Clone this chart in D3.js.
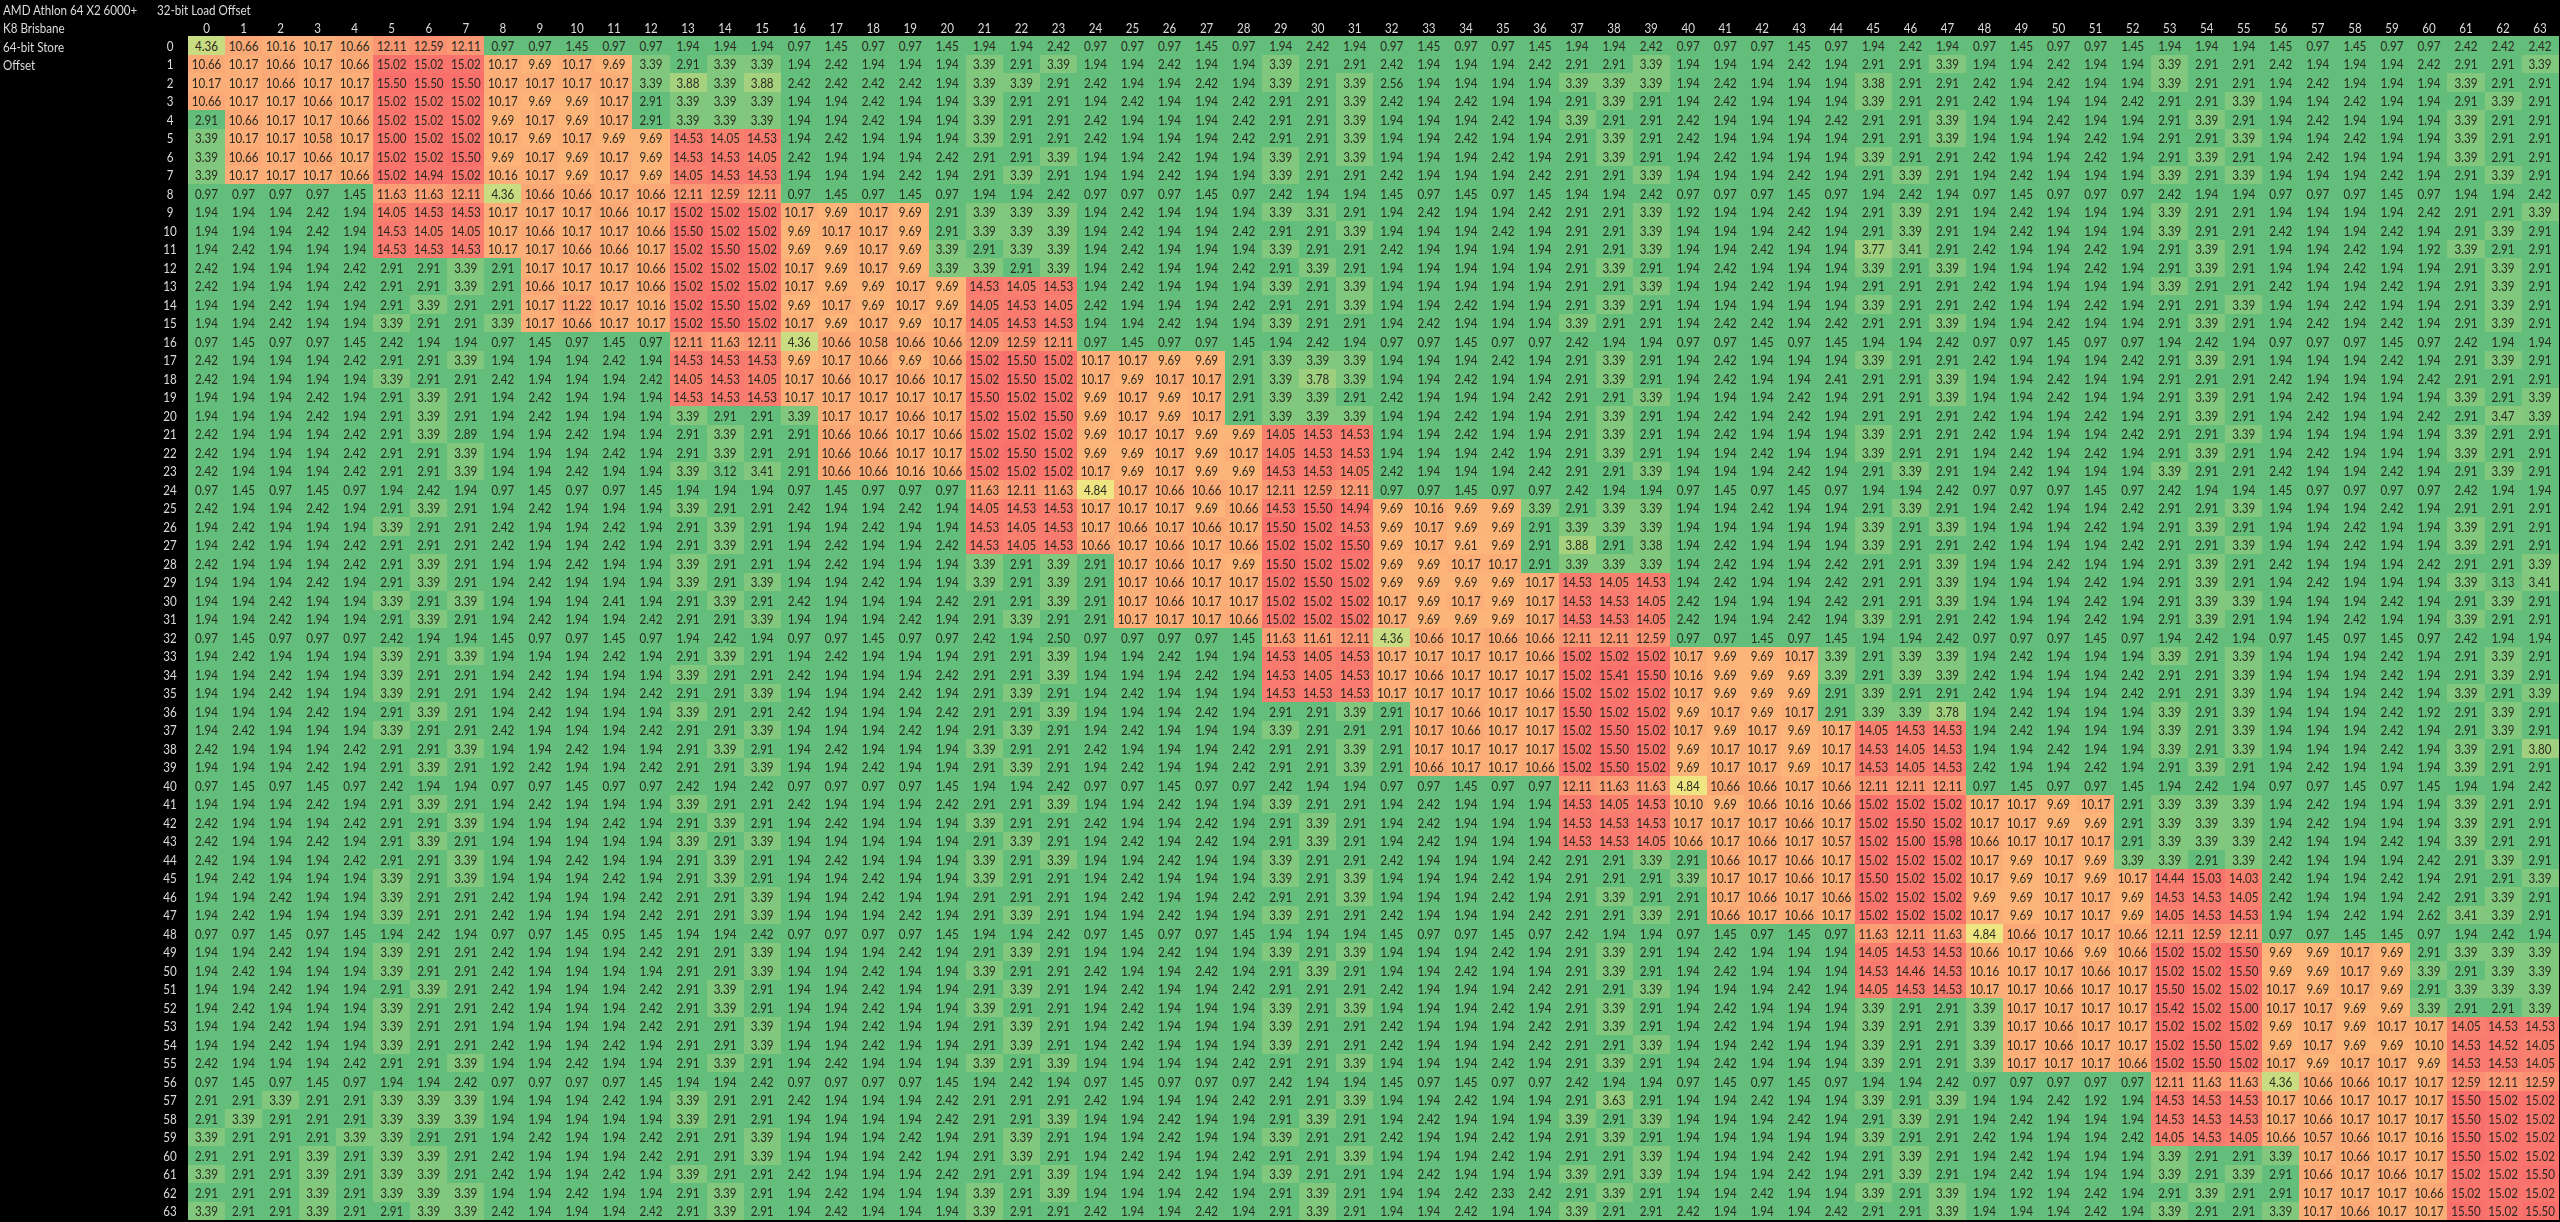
<!DOCTYPE html>
<html><head><meta charset="utf-8">
<script src="https://cdn.jsdelivr.net/npm/d3@7/dist/d3.min.js"></script>
<style>html,body{margin:0;padding:0;background:#000;overflow:hidden}svg{display:block;filter:blur(0.4px)}text{font-family:Lato,"Open Sans",sans-serif}</style>
</head><body><svg id="c" width="2560" height="1222"></svg>
<script>
const titleLines=["AMD Athlon 64 X2 6000+","K8 Brisbane","64-bit Store","Offset"];
const loadTitle="32-bit Load Offset";
const loadOffsets=d3.range(64);
const storeOffsets=d3.range(64);
const s00=[4.36,10.66,10.16,10.17,10.66,12.11,12.59,12.11,0.97,0.97,1.45,0.97,0.97,1.94,1.94,1.94,0.97,1.45,0.97,0.97,1.45,1.94,1.94,2.42,0.97,0.97,0.97,1.45,0.97,1.94,2.42,1.94,0.97,1.45,0.97,0.97,1.45,1.94,1.94,2.42,0.97,0.97,0.97,1.45,0.97,1.94,2.42,1.94,0.97,1.45,0.97,0.97,1.45,1.94,1.94,1.94,1.45,0.97,1.45,0.97,0.97,2.42,2.42,2.42];
const s01=[10.66,10.17,10.66,10.17,10.66,15.02,15.02,15.02,10.17,9.69,10.17,9.69,3.39,2.91,3.39,3.39,1.94,2.42,1.94,1.94,1.94,3.39,2.91,3.39,1.94,1.94,2.42,1.94,1.94,3.39,2.91,2.91,2.42,1.94,1.94,1.94,2.42,2.91,2.91,3.39,1.94,1.94,1.94,2.42,1.94,2.91,2.91,3.39,1.94,1.94,2.42,1.94,1.94,3.39,2.91,2.91,2.42,1.94,1.94,1.94,2.42,2.91,2.91,3.39];
const s02=[10.17,10.17,10.66,10.17,10.17,15.50,15.50,15.50,10.17,10.17,10.17,10.17,3.39,3.88,3.39,3.88,2.42,2.42,2.42,2.42,1.94,3.39,3.39,2.91,2.42,1.94,1.94,2.42,1.94,3.39,2.91,3.39,2.56,1.94,1.94,1.94,1.94,3.39,3.39,3.39,1.94,2.42,1.94,1.94,1.94,3.38,2.91,2.91,2.42,1.94,2.42,1.94,1.94,3.39,2.91,2.91,1.94,2.42,1.94,1.94,1.94,3.39,2.91,2.91];
const s03=[10.66,10.17,10.17,10.66,10.17,15.02,15.02,15.02,10.17,9.69,9.69,10.17,2.91,3.39,3.39,3.39,1.94,1.94,2.42,1.94,1.94,3.39,2.91,2.91,1.94,2.42,1.94,1.94,2.42,2.91,2.91,3.39,2.42,1.94,2.42,1.94,1.94,2.91,3.39,2.91,1.94,2.42,1.94,1.94,1.94,3.39,2.91,2.91,2.42,1.94,1.94,1.94,2.42,2.91,2.91,3.39,1.94,1.94,2.42,1.94,1.94,2.91,3.39,2.91];
const s04=[2.91,10.66,10.17,10.17,10.66,15.02,15.02,15.02,9.69,10.17,9.69,10.17,2.91,3.39,3.39,3.39,1.94,1.94,2.42,1.94,1.94,3.39,2.91,2.91,2.42,1.94,1.94,1.94,2.42,2.91,2.91,3.39,1.94,1.94,1.94,2.42,1.94,3.39,2.91,2.91,2.42,1.94,1.94,1.94,2.42,2.91,2.91,3.39,1.94,1.94,2.42,1.94,1.94,2.91,3.39,2.91,1.94,2.42,1.94,1.94,1.94,3.39,2.91,2.91];
const s05=[3.39,10.17,10.17,10.58,10.17,15.00,15.02,15.02,10.17,9.69,10.17,9.69,9.69,14.53,14.05,14.53,1.94,2.42,1.94,1.94,1.94,3.39,2.91,2.91,2.42,1.94,1.94,1.94,2.42,2.91,2.91,3.39,1.94,1.94,2.42,1.94,1.94,2.91,3.39,2.91,2.42,1.94,1.94,1.94,1.94,2.91,2.91,3.39,1.94,1.94,1.94,2.42,1.94,2.91,2.91,3.39,1.94,1.94,2.42,1.94,1.94,3.39,2.91,2.91];
const s06=[3.39,10.66,10.17,10.66,10.17,15.02,15.02,15.50,9.69,10.17,9.69,10.17,9.69,14.53,14.53,14.05,2.42,1.94,1.94,1.94,2.42,2.91,2.91,3.39,1.94,1.94,2.42,1.94,1.94,3.39,2.91,3.39,1.94,1.94,1.94,2.42,1.94,2.91,3.39,2.91,1.94,2.42,1.94,1.94,1.94,3.39,2.91,2.91,2.42,1.94,1.94,2.42,1.94,2.91,3.39,2.91,1.94,2.42,1.94,1.94,1.94,3.39,2.91,2.91];
const s07=[3.39,10.17,10.17,10.17,10.66,15.02,14.94,15.02,10.16,10.17,9.69,10.17,9.69,14.05,14.53,14.53,1.94,1.94,1.94,2.42,1.94,2.91,3.39,2.91,1.94,1.94,2.42,1.94,1.94,3.39,2.91,2.91,2.42,1.94,1.94,1.94,2.42,2.91,2.91,3.39,1.94,1.94,1.94,2.42,1.94,2.91,3.39,2.91,1.94,2.42,1.94,1.94,1.94,3.39,2.91,3.39,1.94,1.94,1.94,2.42,1.94,2.91,3.39,2.91];
const s08=[0.97,0.97,0.97,0.97,1.45,11.63,11.63,12.11,4.36,10.66,10.66,10.17,10.66,12.11,12.59,12.11,0.97,1.45,0.97,1.45,0.97,1.94,1.94,2.42,0.97,0.97,0.97,1.45,0.97,2.42,1.94,1.94,1.45,0.97,1.45,0.97,1.45,1.94,1.94,2.42,0.97,0.97,0.97,1.45,0.97,1.94,2.42,1.94,0.97,1.45,0.97,0.97,0.97,2.42,1.94,1.94,0.97,0.97,0.97,1.45,0.97,1.94,1.94,2.42];
const s09=[1.94,1.94,1.94,2.42,1.94,14.05,14.53,14.53,10.17,10.17,10.17,10.66,10.17,15.02,15.02,15.02,10.17,9.69,10.17,9.69,2.91,3.39,3.39,3.39,1.94,2.42,1.94,1.94,1.94,3.39,3.31,2.91,1.94,2.42,1.94,1.94,2.42,2.91,2.91,3.39,1.92,1.94,1.94,2.42,1.94,2.91,3.39,2.91,1.94,2.42,1.94,1.94,1.94,3.39,2.91,2.91,1.94,1.94,1.94,1.94,2.42,2.91,2.91,3.39];
const s10=[1.94,1.94,1.94,2.42,1.94,14.53,14.05,14.05,10.17,10.66,10.17,10.17,10.66,15.50,15.02,15.02,9.69,10.17,10.17,9.69,2.91,3.39,3.39,3.39,1.94,2.42,1.94,1.94,2.42,2.91,2.91,3.39,1.94,1.94,1.94,2.42,1.94,2.91,2.91,3.39,1.94,1.94,1.94,2.42,1.94,2.91,3.39,2.91,1.94,2.42,1.94,1.94,1.94,3.39,2.91,2.91,2.42,1.94,1.94,2.42,1.94,2.91,3.39,2.91];
const s11=[1.94,2.42,1.94,1.94,1.94,14.53,14.53,14.53,10.17,10.17,10.66,10.66,10.17,15.02,15.50,15.02,9.69,9.69,10.17,9.69,3.39,2.91,3.39,3.39,1.94,2.42,1.94,1.94,1.94,3.39,2.91,2.91,2.42,1.94,1.94,1.94,1.94,2.91,2.91,3.39,1.94,1.94,2.42,1.94,1.94,3.77,3.41,2.91,2.42,1.94,1.94,2.42,1.94,2.91,3.39,2.91,1.94,1.94,2.42,1.94,1.92,3.39,2.91,2.91];
const s12=[2.42,1.94,1.94,1.94,2.42,2.91,2.91,3.39,2.91,10.17,10.17,10.17,10.66,15.02,15.02,15.02,10.17,9.69,10.17,9.69,3.39,3.39,2.91,3.39,1.94,2.42,1.94,1.94,2.42,2.91,3.39,2.91,1.94,1.94,1.94,1.94,1.94,2.91,3.39,2.91,1.94,2.42,1.94,1.94,1.94,3.39,2.91,3.39,1.94,1.94,1.94,2.42,1.94,2.91,3.39,2.91,1.94,1.94,2.42,1.94,1.94,2.91,3.39,2.91];
const s13=[2.42,1.94,1.94,1.94,2.42,2.91,2.91,3.39,2.91,10.66,10.17,10.17,10.66,15.02,15.02,15.02,10.17,9.69,9.69,10.17,9.69,14.53,14.05,14.53,1.94,2.42,1.94,1.94,1.94,3.39,2.91,3.39,1.94,1.94,1.94,1.94,1.94,2.91,2.91,3.39,1.94,1.94,2.42,1.94,1.94,2.91,2.91,2.91,2.42,1.94,1.94,1.94,1.94,3.39,2.91,2.91,2.42,1.94,1.94,2.42,1.94,2.91,3.39,2.91];
const s14=[1.94,1.94,2.42,1.94,1.94,2.91,3.39,2.91,2.91,10.17,11.22,10.17,10.16,15.02,15.50,15.02,9.69,10.17,9.69,10.17,9.69,14.05,14.53,14.05,2.42,1.94,1.94,1.94,2.42,2.91,2.91,3.39,1.94,1.94,2.42,1.94,1.94,2.91,3.39,2.91,1.94,1.94,1.94,1.94,1.94,3.39,2.91,2.91,2.42,1.94,1.94,2.42,1.94,2.91,2.91,3.39,1.94,1.94,2.42,1.94,1.94,2.91,3.39,2.91];
const s15=[1.94,1.94,2.42,1.94,1.94,3.39,2.91,2.91,3.39,10.17,10.66,10.17,10.17,15.02,15.50,15.02,10.17,9.69,10.17,9.69,10.17,14.05,14.53,14.53,1.94,1.94,2.42,1.94,1.94,3.39,2.91,2.91,1.94,2.42,1.94,1.94,1.94,3.39,2.91,2.91,1.94,2.42,2.42,1.94,2.42,2.91,2.91,3.39,1.94,1.94,2.42,1.94,1.94,2.91,3.39,2.91,1.94,2.42,1.94,2.42,1.94,2.91,3.39,2.91];
const s16=[0.97,1.45,0.97,0.97,1.45,2.42,1.94,1.94,0.97,1.45,0.97,1.45,0.97,12.11,11.63,12.11,4.36,10.66,10.58,10.66,10.66,12.09,12.59,12.11,0.97,1.45,0.97,0.97,1.45,1.94,2.42,1.94,0.97,0.97,1.45,0.97,0.97,2.42,1.94,1.94,0.97,0.97,1.45,0.97,1.45,1.94,1.94,2.42,0.97,0.97,1.45,0.97,0.97,1.94,2.42,1.94,0.97,0.97,0.97,1.45,0.97,2.42,1.94,1.94];
const s17=[2.42,1.94,1.94,1.94,2.42,2.91,2.91,3.39,1.94,1.94,1.94,2.42,1.94,14.53,14.53,14.53,9.69,10.17,10.66,9.69,10.66,15.02,15.50,15.02,10.17,10.17,9.69,9.69,2.91,3.39,3.39,3.39,1.94,1.94,1.94,2.42,1.94,2.91,3.39,2.91,1.94,2.42,1.94,1.94,1.94,3.39,2.91,2.91,2.42,1.94,1.94,1.94,2.42,2.91,3.39,2.91,1.94,1.94,1.94,2.42,1.94,2.91,3.39,2.91];
const s18=[2.42,1.94,1.94,1.94,1.94,3.39,2.91,2.91,2.42,1.94,1.94,1.94,2.42,14.05,14.53,14.05,10.17,10.66,10.17,10.66,10.17,15.02,15.50,15.02,10.17,9.69,10.17,10.17,2.91,3.39,3.78,3.39,1.94,1.94,2.42,1.94,1.94,2.91,3.39,2.91,1.94,2.42,1.94,1.94,2.41,2.91,2.91,3.39,1.94,1.94,2.42,1.94,1.94,2.91,2.91,2.91,2.42,1.94,1.94,1.94,2.42,2.91,2.91,2.91];
const s19=[1.94,1.94,1.94,2.42,1.94,2.91,3.39,2.91,1.94,2.42,1.94,1.94,1.94,14.53,14.53,14.53,10.17,10.17,10.17,10.17,10.17,15.50,15.02,15.02,9.69,10.17,9.69,10.17,2.91,3.39,3.39,2.91,2.42,1.94,1.94,1.94,2.42,2.91,2.91,3.39,1.94,1.94,1.94,2.42,1.94,2.91,2.91,3.39,1.94,1.94,2.42,1.94,1.94,2.91,3.39,2.91,1.94,2.42,1.94,1.94,1.94,3.39,2.91,3.39];
const s20=[1.94,1.94,1.94,2.42,1.94,2.91,3.39,2.91,1.94,2.42,1.94,1.94,1.94,3.39,2.91,2.91,3.39,10.17,10.17,10.66,10.17,15.02,15.02,15.50,9.69,10.17,9.69,10.17,2.91,3.39,3.39,3.39,1.94,1.94,2.42,1.94,1.94,2.91,3.39,2.91,1.94,2.42,1.94,2.42,1.94,2.91,2.91,2.91,2.42,1.94,1.94,2.42,1.94,2.91,3.39,2.91,1.94,2.42,1.94,1.94,2.42,2.91,3.47,3.39];
const s21=[2.42,1.94,1.94,1.94,2.42,2.91,3.39,2.89,1.94,1.94,2.42,1.94,1.94,2.91,3.39,2.91,2.91,10.66,10.66,10.17,10.66,15.02,15.02,15.02,9.69,10.17,10.17,9.69,9.69,14.05,14.53,14.53,1.94,1.94,2.42,1.94,1.94,2.91,3.39,2.91,1.94,2.42,1.94,1.94,1.94,3.39,2.91,2.91,2.42,1.94,1.94,1.94,2.42,2.91,2.91,3.39,1.94,1.94,1.94,1.94,1.94,3.39,2.91,2.91];
const s22=[2.42,1.94,1.94,1.94,2.42,2.91,2.91,3.39,1.94,1.94,1.94,2.42,1.94,2.91,3.39,2.91,2.91,10.66,10.66,10.17,10.17,15.02,15.50,15.02,9.69,9.69,10.17,9.69,10.17,14.05,14.53,14.53,1.94,1.94,1.94,2.42,1.94,2.91,3.39,2.91,1.94,1.94,2.42,1.94,1.94,3.39,2.91,2.91,1.94,2.42,1.94,2.42,1.94,2.91,3.39,2.91,1.94,2.42,1.94,1.94,1.94,3.39,2.91,2.91];
const s23=[2.42,1.94,1.94,1.94,2.42,2.91,2.91,3.39,1.94,1.94,2.42,1.94,1.94,3.39,3.12,3.41,2.91,10.66,10.66,10.16,10.66,15.02,15.02,15.02,10.17,9.69,10.17,9.69,9.69,14.53,14.53,14.05,2.42,1.94,1.94,1.94,2.42,2.91,2.91,3.39,1.94,1.94,1.94,2.42,1.94,2.91,3.39,2.91,1.94,2.42,1.94,1.94,1.94,3.39,2.91,2.91,2.42,1.94,1.94,2.42,1.94,2.91,3.39,2.91];
const s24=[0.97,1.45,0.97,1.45,0.97,1.94,2.42,1.94,0.97,1.45,0.97,0.97,1.45,1.94,1.94,1.94,0.97,1.45,0.97,0.97,0.97,11.63,12.11,11.63,4.84,10.17,10.66,10.66,10.17,12.11,12.59,12.11,0.97,0.97,1.45,0.97,0.97,2.42,1.94,1.94,0.97,1.45,0.97,1.45,0.97,1.94,1.94,2.42,0.97,0.97,0.97,1.45,0.97,2.42,1.94,1.94,1.45,0.97,0.97,0.97,0.97,2.42,1.94,1.94];
const s25=[2.42,1.94,1.94,2.42,1.94,2.91,3.39,2.91,1.94,2.42,1.94,1.94,1.94,3.39,2.91,2.91,2.42,1.94,1.94,2.42,1.94,14.05,14.53,14.53,10.17,10.17,10.17,9.69,10.66,14.53,15.50,14.94,9.69,10.16,9.69,9.69,3.39,2.91,3.39,3.39,1.94,1.94,2.42,1.94,1.94,2.91,3.39,2.91,1.94,2.42,1.94,1.94,2.42,2.91,2.91,3.39,1.94,1.94,1.94,2.42,1.94,2.91,2.91,2.91];
const s26=[1.94,2.42,1.94,1.94,1.94,3.39,2.91,2.91,2.42,1.94,1.94,2.42,1.94,2.91,3.39,2.91,1.94,1.94,2.42,1.94,1.94,14.53,14.05,14.53,10.17,10.66,10.17,10.66,10.17,15.50,15.02,14.53,9.69,10.17,9.69,9.69,2.91,3.39,3.39,3.39,1.94,1.94,1.94,1.94,1.94,3.39,2.91,3.39,1.94,1.94,1.94,2.42,1.94,2.91,3.39,2.91,1.94,1.94,2.42,1.94,1.94,3.39,2.91,2.91];
const s27=[1.94,2.42,1.94,1.94,2.42,2.91,2.91,2.91,2.42,1.94,1.94,2.42,1.94,2.91,3.39,2.91,1.94,2.42,1.94,1.94,2.42,14.53,14.05,14.53,10.66,10.17,10.66,10.17,10.66,15.02,15.02,15.50,9.69,10.17,9.61,9.69,2.91,3.88,2.91,3.38,1.94,2.42,1.94,1.94,1.94,3.39,2.91,2.91,2.42,1.94,1.94,1.94,2.42,2.91,2.91,3.39,1.94,1.94,2.42,1.94,1.94,3.39,2.91,2.91];
const s28=[2.42,1.94,1.94,1.94,2.42,2.91,3.39,2.91,1.94,1.94,2.42,1.94,1.94,3.39,2.91,2.91,1.94,2.42,1.94,1.94,1.94,3.39,2.91,3.39,2.91,10.17,10.66,10.17,9.69,15.50,15.02,15.02,9.69,9.69,10.17,10.17,2.91,3.39,3.39,3.39,1.94,2.42,1.94,1.94,2.42,2.91,2.91,3.39,1.94,1.94,2.42,1.94,1.94,2.91,3.39,2.91,2.42,1.94,1.94,1.94,2.42,2.91,2.91,3.39];
const s29=[1.94,1.94,1.94,2.42,1.94,2.91,3.39,2.91,1.94,2.42,1.94,1.94,1.94,3.39,2.91,3.39,1.94,1.94,2.42,1.94,1.94,3.39,2.91,3.39,2.91,10.17,10.66,10.17,10.17,15.02,15.50,15.02,9.69,9.69,9.69,9.69,10.17,14.53,14.05,14.53,1.94,2.42,1.94,1.94,2.42,2.91,2.91,3.39,1.94,1.94,1.94,2.42,1.94,2.91,3.39,2.91,1.94,2.42,1.94,1.94,1.94,3.39,3.13,3.41];
const s30=[1.94,1.94,2.42,1.94,1.94,3.39,2.91,3.39,1.94,1.94,1.94,2.41,1.94,2.91,3.39,2.91,2.42,1.94,1.94,1.94,2.42,2.91,2.91,3.39,2.91,10.17,10.66,10.17,10.17,15.02,15.02,15.02,10.17,9.69,10.17,9.69,10.17,14.53,14.53,14.05,2.42,1.94,1.94,1.94,2.42,2.91,2.91,3.39,1.94,1.94,1.94,2.42,1.94,2.91,3.39,3.39,1.94,1.94,1.94,2.42,1.94,2.91,3.39,2.91];
const s31=[1.94,1.94,2.42,1.94,1.94,2.91,3.39,2.91,1.94,2.42,1.94,1.94,2.42,2.91,2.91,3.39,1.94,1.94,1.94,2.42,1.94,2.91,3.39,2.91,2.91,10.17,10.17,10.17,10.66,15.02,15.02,15.02,10.17,9.69,9.69,9.69,10.17,14.53,14.53,14.05,2.42,1.94,1.94,2.42,1.94,3.39,2.91,2.91,2.42,1.94,1.94,2.42,1.94,2.91,3.39,2.91,1.94,1.94,2.42,1.94,1.94,3.39,2.91,2.91];
const s32=[0.97,1.45,0.97,0.97,0.97,2.42,1.94,1.94,1.45,0.97,0.97,1.45,0.97,1.94,2.42,1.94,0.97,0.97,1.45,0.97,0.97,2.42,1.94,2.50,0.97,0.97,0.97,0.97,1.45,11.63,11.61,12.11,4.36,10.66,10.17,10.66,10.66,12.11,12.11,12.59,0.97,0.97,1.45,0.97,1.45,1.94,1.94,2.42,0.97,0.97,0.97,1.45,0.97,1.94,2.42,1.94,0.97,1.45,0.97,1.45,0.97,2.42,1.94,1.94];
const s33=[1.94,2.42,1.94,1.94,1.94,3.39,2.91,3.39,1.94,1.94,1.94,2.42,1.94,2.91,3.39,2.91,1.94,2.42,1.94,1.94,1.94,2.91,2.91,3.39,1.94,1.94,2.42,1.94,1.94,14.53,14.05,14.53,10.17,10.17,10.17,10.17,10.66,15.02,15.02,15.02,10.17,9.69,9.69,10.17,3.39,2.91,3.39,3.39,1.94,2.42,1.94,1.94,1.94,3.39,2.91,3.39,1.94,1.94,1.94,2.42,1.94,2.91,3.39,2.91];
const s34=[1.94,1.94,2.42,1.94,1.94,3.39,2.91,2.91,1.94,2.42,1.94,1.94,1.94,3.39,2.91,2.91,2.42,1.94,1.94,1.94,2.42,2.91,2.91,3.39,1.94,1.94,1.94,2.42,1.94,14.53,14.05,14.53,10.17,10.66,10.17,10.17,10.17,15.02,15.41,15.50,10.16,9.69,9.69,9.69,3.39,2.91,3.39,3.39,2.42,1.94,1.94,1.94,2.42,2.91,2.91,3.39,1.94,1.94,1.94,2.42,1.94,2.91,3.39,2.91];
const s35=[1.94,1.94,2.42,1.94,1.94,3.39,2.91,2.91,1.94,2.42,1.94,1.94,2.42,2.91,2.91,3.39,1.94,1.94,1.94,2.42,1.94,2.91,3.39,2.91,1.94,2.42,1.94,1.94,1.94,14.53,14.53,14.53,10.17,10.17,10.17,10.17,10.66,15.02,15.02,15.02,10.17,9.69,9.69,9.69,2.91,3.39,2.91,2.91,2.42,1.94,1.94,1.94,2.42,2.91,2.91,3.39,1.94,1.94,1.94,2.42,1.94,3.39,2.91,3.39];
const s36=[1.94,1.94,1.94,2.42,1.94,2.91,3.39,2.91,1.94,2.42,1.94,1.94,1.94,3.39,2.91,2.91,2.42,1.94,1.94,1.94,2.42,2.91,2.91,3.39,1.94,1.94,1.94,2.42,1.94,2.91,2.91,3.39,2.91,10.17,10.66,10.17,10.17,15.50,15.02,15.02,9.69,10.17,9.69,10.17,2.91,3.39,3.39,3.78,1.94,2.42,1.94,1.94,1.94,3.39,2.91,3.39,1.94,1.94,1.94,2.42,1.92,2.91,3.39,2.91];
const s37=[1.94,2.42,1.94,1.94,1.94,3.39,2.91,2.91,2.42,1.94,1.94,1.94,2.42,2.91,2.91,3.39,1.94,1.94,1.94,2.42,1.94,2.91,3.39,2.91,1.94,2.42,1.94,1.94,1.94,3.39,2.91,2.91,2.91,10.17,10.66,10.17,10.17,15.02,15.50,15.02,10.17,9.69,10.17,9.69,10.17,14.05,14.53,14.53,1.94,2.42,1.94,1.94,1.94,3.39,2.91,3.39,1.94,1.94,1.94,2.42,1.94,2.91,3.39,2.91];
const s38=[2.42,1.94,1.94,1.94,2.42,2.91,2.91,3.39,1.94,1.94,2.42,1.94,1.94,2.91,3.39,2.91,1.94,2.42,1.94,1.94,1.94,3.39,2.91,2.91,2.42,1.94,1.94,1.94,2.42,2.91,2.91,3.39,2.91,10.17,10.17,10.17,10.17,15.02,15.50,15.02,9.69,10.17,10.17,9.69,10.17,14.53,14.05,14.53,1.94,1.94,2.42,1.94,1.94,3.39,2.91,3.39,1.94,1.94,1.94,2.42,1.94,3.39,2.91,3.80];
const s39=[1.94,1.94,1.94,2.42,1.94,2.91,3.39,2.91,1.92,2.42,1.94,1.94,2.42,2.91,2.91,3.39,1.94,1.94,2.42,1.94,1.94,2.91,3.39,2.91,1.94,2.42,1.94,1.94,2.42,2.91,2.91,3.39,2.91,10.66,10.17,10.17,10.66,15.02,15.50,15.02,9.69,10.17,10.17,9.69,10.17,14.53,14.05,14.53,2.42,1.94,1.94,2.42,1.94,2.91,3.39,2.91,1.94,2.42,1.94,1.94,1.94,3.39,2.91,2.91];
const s40=[0.97,1.45,0.97,1.45,0.97,2.42,1.94,1.94,0.97,0.97,1.45,0.97,0.97,2.42,1.94,2.42,0.97,0.97,0.97,0.97,1.45,1.94,1.94,2.42,0.97,0.97,1.45,0.97,0.97,2.42,1.94,1.94,0.97,0.97,1.45,0.97,0.97,12.11,11.63,11.63,4.84,10.66,10.66,10.17,10.66,12.11,12.11,12.11,0.97,1.45,0.97,0.97,1.45,1.94,2.42,1.94,0.97,0.97,1.45,0.97,1.45,1.94,1.94,2.42];
const s41=[1.94,1.94,1.94,2.42,1.94,2.91,3.39,2.91,1.94,2.42,1.94,1.94,1.94,3.39,2.91,2.91,2.42,1.94,1.94,1.94,2.42,2.91,2.91,3.39,1.94,1.94,2.42,1.94,1.94,3.39,2.91,2.91,1.94,2.42,1.94,1.94,1.94,14.53,14.05,14.53,10.10,9.69,10.66,10.16,10.66,15.02,15.02,15.02,10.17,10.17,9.69,10.17,2.91,3.39,3.39,3.39,1.94,2.42,1.94,1.94,1.94,3.39,2.91,2.91];
const s42=[2.42,1.94,1.94,1.94,2.42,2.91,2.91,3.39,1.94,1.94,1.94,2.42,1.94,2.91,3.39,2.91,1.94,2.42,1.94,1.94,1.94,3.39,2.91,2.91,2.42,1.94,1.94,2.42,1.94,2.91,3.39,2.91,1.94,2.42,1.94,1.94,1.94,14.53,14.53,14.53,10.17,10.17,10.17,10.66,10.17,15.02,15.50,15.02,10.17,10.17,9.69,9.69,2.91,3.39,3.39,3.39,1.94,2.42,1.94,1.94,1.94,3.39,2.91,2.91];
const s43=[2.42,1.94,1.94,2.42,1.94,2.91,3.39,2.91,1.94,1.94,1.94,1.94,1.94,3.39,2.91,3.39,1.94,1.94,1.94,1.94,1.94,2.91,3.39,2.91,1.94,2.42,1.94,2.42,1.94,2.91,3.39,2.91,1.94,2.42,1.94,1.94,1.94,14.53,14.53,14.05,10.66,10.17,10.66,10.17,10.57,15.02,15.00,15.98,10.66,10.17,10.17,10.17,2.91,3.39,3.39,3.39,2.42,1.94,1.94,2.42,1.94,3.39,2.91,2.91];
const s44=[2.42,1.94,1.94,1.94,2.42,2.91,2.91,3.39,1.94,1.94,2.42,1.94,1.94,2.91,3.39,2.91,1.94,2.42,1.94,1.94,1.94,3.39,2.91,3.39,1.94,1.94,2.42,1.94,1.94,3.39,2.91,2.91,2.42,1.94,1.94,1.94,2.42,2.91,2.91,3.39,2.91,10.66,10.17,10.66,10.17,15.02,15.02,15.02,10.17,9.69,10.17,9.69,3.39,3.39,2.91,3.39,2.42,1.94,1.94,1.94,2.42,2.91,3.39,2.91];
const s45=[1.94,2.42,1.94,1.94,1.94,3.39,2.91,3.39,1.94,1.94,1.94,2.42,1.94,2.91,3.39,2.91,1.94,1.94,2.42,1.94,1.94,3.39,2.91,2.91,1.94,2.42,1.94,1.94,1.94,3.39,2.91,3.39,1.94,1.94,1.94,2.42,1.94,2.91,2.91,2.91,3.39,10.17,10.17,10.66,10.17,15.50,15.02,15.02,10.17,9.69,10.17,9.69,10.17,14.44,15.03,14.03,2.42,1.94,1.94,2.42,1.94,2.91,2.91,3.39];
const s46=[1.94,1.94,2.42,1.94,1.94,3.39,2.91,2.91,2.42,1.94,1.94,1.94,2.42,2.91,2.91,3.39,1.94,1.94,2.42,1.94,1.94,2.91,2.91,2.91,1.94,2.42,1.94,1.94,2.42,2.91,2.91,3.39,1.94,1.94,1.94,2.42,1.94,2.91,3.39,2.91,2.91,10.17,10.66,10.17,10.66,15.02,15.02,15.02,9.69,9.69,10.17,10.17,9.69,14.53,14.53,14.05,2.42,1.94,1.94,1.94,2.42,2.91,3.39,2.91];
const s47=[1.94,2.42,1.94,1.94,1.94,3.39,2.91,2.91,2.42,1.94,1.94,1.94,2.42,2.91,2.91,3.39,1.94,1.94,1.94,2.42,1.94,2.91,3.39,2.91,1.94,1.94,2.42,1.94,1.94,3.39,2.91,2.91,2.42,1.94,1.94,1.94,2.42,2.91,2.91,3.39,2.91,10.66,10.17,10.66,10.17,15.02,15.02,15.02,10.17,9.69,10.17,10.17,9.69,14.05,14.53,14.53,1.94,1.94,2.42,1.94,2.62,3.41,3.39,2.91];
const s48=[0.97,0.97,1.45,0.97,1.45,1.94,2.42,1.94,0.97,0.97,1.45,0.95,1.45,1.94,1.94,2.42,0.97,0.97,0.97,0.97,1.45,1.94,1.94,2.42,0.97,1.45,0.97,0.97,1.45,1.94,1.94,1.94,1.45,0.97,0.97,1.45,0.97,2.42,1.94,1.94,0.97,1.45,0.97,1.45,0.97,11.63,12.11,11.63,4.84,10.66,10.17,10.17,10.66,12.11,12.59,12.11,0.97,0.97,1.45,1.45,0.97,1.94,2.42,1.94];
const s49=[1.94,1.94,2.42,1.94,1.94,3.39,2.91,2.91,2.42,1.94,1.94,1.94,2.42,2.91,2.91,3.39,1.94,1.94,1.94,2.42,1.94,2.91,3.39,2.91,1.94,1.94,2.42,1.94,1.94,3.39,2.91,3.39,1.94,1.94,1.94,2.42,1.94,2.91,3.39,2.91,1.94,2.42,1.94,1.94,1.94,14.05,14.53,14.53,10.66,10.17,10.66,9.69,10.66,15.02,15.02,15.50,9.69,9.69,10.17,9.69,2.91,3.39,3.39,3.39];
const s50=[1.94,2.42,1.94,1.94,1.94,3.39,2.91,2.91,2.42,1.94,1.94,1.94,1.94,2.91,2.91,3.39,1.94,1.94,2.42,1.94,1.94,3.39,2.91,2.91,2.42,1.94,1.94,2.42,1.94,2.91,3.39,2.91,1.94,1.94,2.42,1.94,1.94,2.91,3.39,2.91,1.94,2.42,1.94,1.94,1.94,14.53,14.46,14.53,10.16,10.17,10.17,10.66,10.17,15.02,15.02,15.50,9.69,9.69,10.17,9.69,3.39,2.91,3.39,3.39];
const s51=[1.94,1.94,2.42,1.94,1.94,2.91,3.39,2.91,2.42,1.94,1.94,1.94,2.42,2.91,3.39,2.91,1.94,1.94,2.42,1.94,1.94,2.91,3.39,2.91,1.94,2.42,1.94,1.94,2.42,2.91,2.91,2.91,2.42,1.94,1.94,1.94,2.42,2.91,2.91,3.39,1.94,1.94,1.94,2.42,1.94,14.05,14.53,14.53,10.17,10.17,10.66,10.17,10.17,15.50,15.02,15.02,10.17,9.69,10.17,9.69,2.91,3.39,3.39,3.39];
const s52=[1.94,2.42,1.94,1.94,1.94,3.39,2.91,2.91,2.42,1.94,1.94,1.94,2.42,2.91,3.39,2.91,1.94,1.94,2.42,1.94,1.94,3.39,2.91,2.91,1.94,2.42,1.94,1.94,1.94,3.39,2.91,3.39,1.94,1.94,1.94,2.42,1.94,2.91,3.39,2.91,1.94,2.42,1.94,1.94,1.94,3.39,2.91,2.91,3.39,10.17,10.17,10.17,10.17,15.42,15.02,15.00,10.17,10.17,9.69,9.69,3.39,2.91,2.91,3.39];
const s53=[1.94,1.94,2.42,1.94,1.94,3.39,2.91,2.91,1.94,1.94,1.94,1.94,2.42,2.91,2.91,3.39,1.94,1.94,2.42,1.94,1.94,2.91,3.39,2.91,1.94,2.42,1.94,1.94,1.94,3.39,2.91,2.91,2.42,1.94,1.94,1.94,2.42,2.91,3.39,2.91,1.94,2.42,1.94,1.94,1.94,3.39,2.91,2.91,3.39,10.17,10.66,10.17,10.17,15.02,15.02,15.02,9.69,10.17,9.69,10.17,10.17,14.05,14.53,14.53];
const s54=[1.94,1.94,2.42,1.94,1.94,3.39,2.91,2.91,2.42,1.94,1.94,2.42,1.94,2.91,2.91,3.39,1.94,1.94,2.42,1.94,1.94,2.91,3.39,2.91,1.94,2.42,1.94,1.94,1.94,3.39,2.91,2.91,2.42,1.94,1.94,1.94,2.42,2.91,2.91,3.39,1.94,1.94,2.42,1.94,1.94,3.39,2.91,2.91,3.39,10.17,10.66,10.17,10.17,15.02,15.50,15.02,9.69,10.17,9.69,9.69,10.10,14.53,14.52,14.05];
const s55=[2.42,1.94,1.94,1.94,2.42,2.91,2.91,3.39,1.94,1.94,2.42,1.94,1.94,2.91,3.39,2.91,1.94,2.42,1.94,1.94,1.94,3.39,2.91,3.39,1.94,1.94,1.94,1.94,2.42,2.91,2.91,3.39,1.94,1.94,1.94,2.42,1.94,2.91,3.39,2.91,1.94,2.42,1.94,1.94,1.94,3.39,2.91,2.91,3.39,10.17,10.17,10.17,10.66,15.02,15.50,15.02,10.17,9.69,10.17,10.17,9.69,14.53,14.53,14.05];
const s56=[0.97,1.45,0.97,1.45,0.97,1.94,1.94,2.42,0.97,0.97,0.97,0.97,1.45,1.94,1.94,2.42,0.97,0.97,0.97,0.97,1.45,1.94,2.42,1.94,0.97,1.45,0.97,0.97,0.97,2.42,1.94,1.94,1.45,0.97,1.45,0.97,0.97,2.42,1.94,1.94,0.97,1.45,0.97,1.45,0.97,1.94,1.94,2.42,0.97,0.97,0.97,0.97,0.97,12.11,11.63,11.63,4.36,10.66,10.66,10.17,10.17,12.59,12.11,12.59];
const s57=[2.91,2.91,3.39,2.91,2.91,3.39,3.39,3.39,1.94,1.94,1.94,2.42,1.94,3.39,2.91,2.91,2.42,1.94,1.94,1.94,2.42,2.91,2.91,2.91,2.42,1.94,1.94,1.94,2.42,2.91,2.91,3.39,1.94,1.94,2.42,1.94,1.94,2.91,3.63,2.91,1.94,1.94,2.42,1.94,1.94,3.39,2.91,3.39,1.94,1.94,2.42,1.92,1.94,14.53,14.53,14.53,10.17,10.66,10.17,10.17,10.17,15.50,15.02,15.02];
const s58=[2.91,3.39,2.91,2.91,2.91,3.39,3.39,3.39,1.94,1.94,1.94,1.94,1.94,3.39,2.91,2.91,1.94,1.94,1.94,1.94,2.42,2.91,2.91,3.39,1.94,1.94,2.42,1.94,1.94,2.91,3.39,2.91,1.94,2.42,1.94,1.94,1.94,3.39,2.91,3.39,1.94,1.94,1.94,2.42,1.94,2.91,3.39,2.91,1.94,2.42,1.94,1.94,1.94,14.53,14.53,14.53,10.17,10.66,10.17,10.17,10.17,15.50,15.02,15.02];
const s59=[3.39,2.91,2.91,2.91,3.39,3.39,2.91,2.91,1.94,2.42,1.94,1.94,2.42,2.91,2.91,3.39,1.94,1.94,1.94,2.42,1.94,2.91,3.39,2.91,1.94,1.94,2.42,1.94,1.94,3.39,2.91,2.91,2.42,1.94,1.94,2.42,1.94,2.91,3.39,2.91,1.94,1.94,1.94,1.94,1.94,3.39,2.91,2.91,2.42,1.94,1.94,1.94,2.42,14.05,14.53,14.05,10.66,10.57,10.66,10.17,10.16,15.50,15.02,15.02];
const s60=[2.91,2.91,2.91,3.39,2.91,3.39,3.39,2.91,2.42,1.94,1.94,1.94,2.42,2.91,2.91,3.39,1.94,1.94,1.94,2.42,1.94,2.91,3.39,2.91,1.94,2.42,1.94,1.94,2.42,2.91,2.91,3.39,1.94,1.94,1.94,2.42,1.94,2.91,2.91,3.39,1.94,1.94,1.94,2.42,1.94,2.91,3.39,2.91,1.94,2.42,1.94,1.94,1.94,3.39,2.91,2.91,3.39,10.17,10.66,10.17,10.17,15.50,15.02,15.02];
const s61=[3.39,2.91,2.91,3.39,2.91,3.39,3.39,2.91,2.42,1.94,1.94,2.42,1.94,3.39,2.91,2.91,2.42,1.94,1.94,1.94,2.42,2.91,2.91,3.39,1.94,1.94,2.42,1.94,1.94,3.39,2.91,2.91,1.94,2.42,1.94,1.94,1.94,3.39,2.91,3.39,1.94,1.94,1.94,2.42,1.94,2.91,3.39,2.91,1.94,2.42,1.94,1.94,1.94,3.39,2.91,3.39,2.91,10.66,10.17,10.66,10.17,15.02,15.02,15.50];
const s62=[2.91,2.91,2.91,3.39,2.91,3.39,3.39,3.39,1.94,1.94,2.42,1.94,1.94,2.91,3.39,2.91,1.94,2.42,1.94,1.94,1.94,3.39,2.91,3.39,1.94,1.94,1.94,2.42,1.94,2.91,3.39,2.91,1.94,1.94,2.42,2.33,2.42,2.91,3.39,2.91,1.94,1.94,2.42,1.94,1.94,3.39,2.91,3.39,1.94,1.92,1.94,2.42,1.94,2.91,3.39,2.91,2.91,10.17,10.17,10.17,10.66,15.02,15.02,15.02];
const s63=[3.39,2.91,2.91,3.39,2.91,2.91,3.39,3.39,2.42,1.94,1.94,1.94,2.42,2.91,3.39,2.91,1.94,2.42,1.94,1.94,1.94,3.39,2.91,2.91,2.42,1.94,1.94,2.42,1.94,2.91,3.39,2.91,1.94,1.94,2.42,1.94,1.94,3.39,2.91,2.91,2.42,1.94,1.94,1.94,2.42,2.91,2.91,3.39,1.94,1.94,1.94,2.42,1.94,3.39,2.91,2.91,3.39,10.17,10.66,10.17,10.17,15.50,15.02,15.50];
const latency=[s00,s01,s02,s03,s04,s05,s06,s07,s08,s09,s10,s11,s12,s13,s14,s15,s16,s17,s18,s19,s20,s21,s22,s23,s24,s25,s26,s27,s28,s29,s30,s31,s32,s33,s34,s35,s36,s37,s38,s39,s40,s41,s42,s43,s44,s45,s46,s47,s48,s49,s50,s51,s52,s53,s54,s55,s56,s57,s58,s59,s60,s61,s62,s63];

const svg=d3.select("#c");
const x=d3.scaleBand().domain(loadOffsets).range([188,2558.6]);
const y=d3.scaleBand().domain(storeOffsets).range([36.3,1220.3]);
const color=d3.scaleLinear().domain([3.0,5.05,15.98]).range(["#63BE7B","#FFEB84","#F8696B"]).clamp(true);
const cells=latency.flatMap((row,r)=>row.map((v,c)=>({r,c,v})));
svg.append("g").selectAll("rect").data(cells).join("rect")
  .attr("x",d=>Math.round(x(d.c))).attr("y",d=>Math.round(y(d.r)))
  .attr("width",d=>Math.round(x(d.c)+x.bandwidth())-Math.round(x(d.c)))
  .attr("height",d=>Math.round(y(d.r)+y.bandwidth())-Math.round(y(d.r)))
  .attr("fill",d=>color(d.v));
const fs=13.2, sx=0.88, ink="#2a2a20", pale="#dcdcdc";
const place=(px,py)=>`translate(${px},${py}) scale(${sx},1)`;
svg.append("g").selectAll("text").data(cells).join("text")
  .attr("transform",d=>place(x(d.c)+x.bandwidth()/2,y(d.r)+y.bandwidth()/2+0.5))
  .attr("text-anchor","middle").attr("dominant-baseline","central")
  .attr("font-size",fs).attr("fill",ink)
  .text(d=>d.v.toFixed(2));
svg.append("g").selectAll("text").data(loadOffsets).join("text")
  .attr("transform",d=>place(x(d)+x.bandwidth()/2,28))
  .attr("text-anchor","middle").attr("dominant-baseline","central")
  .attr("font-size",fs).attr("fill",pale).text(d=>d);
svg.append("g").selectAll("text").data(storeOffsets).join("text")
  .attr("transform",d=>place(170,y(d)+y.bandwidth()/2+0.5))
  .attr("text-anchor","middle").attr("dominant-baseline","central")
  .attr("font-size",fs).attr("fill",pale).text(d=>d);
svg.append("g").selectAll("text").data(titleLines).join("text")
  .attr("transform",(d,i)=>place(3,10+i*18.5))
  .attr("dominant-baseline","central")
  .attr("font-size",fs).attr("fill",pale).text(d=>d);
svg.append("text").attr("transform",place(157,10)).attr("dominant-baseline","central")
  .attr("font-size",fs).attr("fill",pale).text(loadTitle);
</script></body></html>
